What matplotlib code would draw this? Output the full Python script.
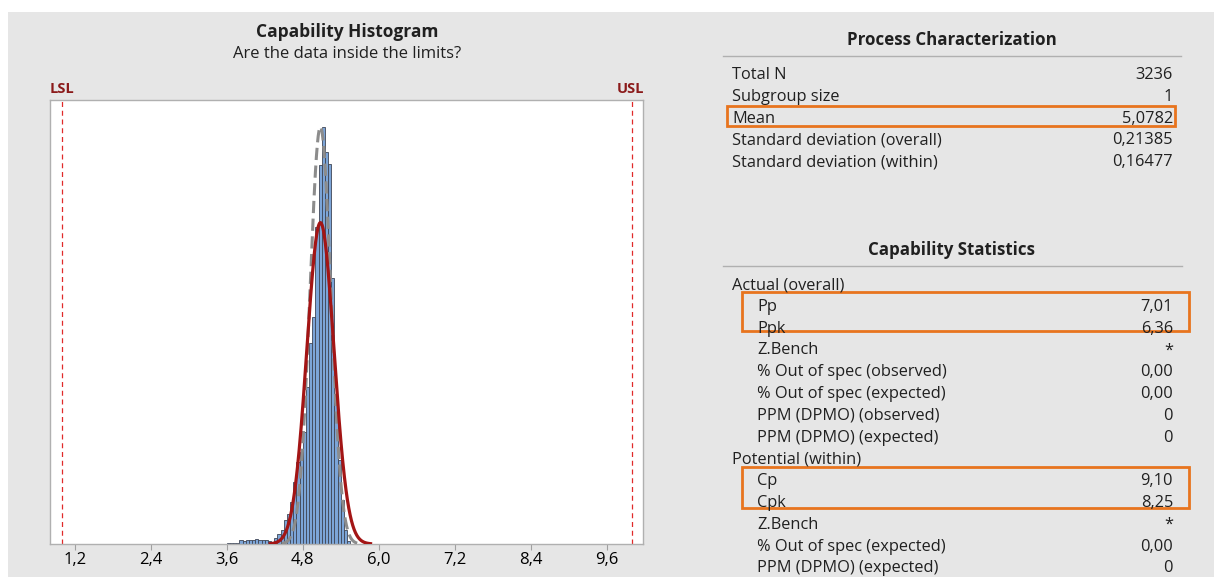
import matplotlib.pyplot as plt
import numpy as np
from matplotlib.patches import Rectangle

plt.rcParams.update({
    "font.family": ["Open Sans", "DejaVu Sans"],
    "font.size": 11,
})

# histogram data
bin_start = 3.60
bin_width = 0.05
counts = [1, 1, 1, 1, 4, 3, 4, 4, 4, 5, 4, 4, 4, 3, 2,
          6, 9, 13, 23, 28, 39, 58, 77, 86, 105, 147, 189, 213, 298,
          356, 392, 368, 357, 250, 132, 79, 41, 13, 3]

lsl, usl = 1.0, 10.0
total_n = 3236
mean = 5.0782
sd_overall = 0.21385
sd_within = 0.16477

xticks = [1.2, 2.4, 3.6, 4.8, 6.0, 7.2, 8.4, 9.6]
xtick_labels = ["1,2", "2,4", "3,6", "4,8", "6,0", "7,2", "8,4", "9,6"]

proc_labels = ["Total N", "Subgroup size", "Mean",
               "Standard deviation (overall)", "Standard deviation (within)"]
proc_values = ["3236", "1", "5,0782", "0,21385", "0,16477"]

cap_rows = [
    ("Actual (overall)", "", 0),
    ("Pp", "7,01", 1),
    ("Ppk", "6,36", 1),
    ("Z.Bench", "*", 1),
    ("% Out of spec (observed)", "0,00", 1),
    ("% Out of spec (expected)", "0,00", 1),
    ("PPM (DPMO) (observed)", "0", 1),
    ("PPM (DPMO) (expected)", "0", 1),
    ("Potential (within)", "", 0),
    ("Cp", "9,10", 1),
    ("Cpk", "8,25", 1),
    ("Z.Bench", "*", 1),
    ("% Out of spec (expected)", "0,00", 1),
    ("PPM (DPMO) (expected)", "0", 1),
]

W, H = 1214, 577
fig = plt.figure(figsize=(W / 100, H / 100), dpi=100)
fig.patch.set_facecolor("white")


def fx(x):
    return x / W


def fy(y):
    return 1 - y / H


# gray background panel
fig.patches.append(Rectangle((fx(8), 0), 1 - fx(8), fy(12), transform=fig.transFigure,
                             facecolor="#e6e6e6", edgecolor="none", zorder=-10))

# ---- histogram ----
ax = fig.add_axes([fx(50), fy(544), (643 - 50) / W, (544 - 100) / H])
ax.set_facecolor("white")

edges = bin_start + bin_width * np.arange(len(counts))
ax.bar(edges, counts, width=bin_width, align="edge", color="#7ca5d8",
       edgecolor="#3f4656", linewidth=0.6, zorder=2)

xs_o = np.linspace(mean - 3.7 * sd_overall, mean + 3.7 * sd_overall, 300)
ys_o = total_n * bin_width * np.exp(-0.5 * ((xs_o - mean) / sd_overall) ** 2) / (sd_overall * np.sqrt(2 * np.pi))
xs_w = np.linspace(mean - 3.7 * sd_within, mean + 3.7 * sd_within, 300)
ys_w = total_n * bin_width * np.exp(-0.5 * ((xs_w - mean) / sd_within) ** 2) / (sd_within * np.sqrt(2 * np.pi))
ax.plot(xs_w, ys_w, color="#8c8c8c", linewidth=2.2, dashes=(4, 1.8), zorder=3)
ax.plot(xs_o, ys_o, color="#a31515", linewidth=2.3, zorder=4)

for v in (lsl, usl):
    ax.axvline(v, color="#e02a2a", linewidth=0.9, dashes=(4, 3), zorder=1)

ax.set_xlim(0.81, 10.17)
ax.set_ylim(0, 417)
ax.set_yticks([])
ax.set_xticks(xticks)
ax.set_xticklabels(xtick_labels, fontsize=12)
ax.tick_params(axis="x", length=4, color="#a0a0a0", pad=2)
for s in ax.spines.values():
    s.set_color("#b0b0b0")
    s.set_linewidth(1.0)

fig.text(fx(347), fy(32), "Capability Histogram", ha="center", va="center",
         fontsize=12.5, fontweight="bold", color="#202020")
fig.text(fx(347), fy(54), "Are the data inside the limits?", ha="center", va="center",
         fontsize=12, color="#202020")
fig.text(fx(50), fy(89), "LSL", ha="left", va="center", fontsize=10.5,
         fontweight="bold", color="#8b1a1a")
fig.text(fx(644), fy(89), "USL", ha="right", va="center", fontsize=10.5,
         fontweight="bold", color="#8b1a1a")

# ---- process characterization ----
lab_x, val_x = 732, 1173
orange = "#e8741e"
row_fs = 11.8
fig.text(fx(952), fy(40), "Process Characterization", ha="center", va="center",
         fontsize=12.2, fontweight="bold", color="#202020")
fig.add_artist(plt.Line2D([fx(723), fx(1181)], [fy(56), fy(56)], color="#b0b0b0", linewidth=1))
for i, (lab, val) in enumerate(zip(proc_labels, proc_values)):
    y = 75 + i * 21.8
    fig.text(fx(lab_x), fy(y), lab, ha="left", va="center", fontsize=row_fs, color="#202020")
    fig.text(fx(val_x), fy(y), val, ha="right", va="center", fontsize=row_fs, color="#202020")
fig.patches.append(Rectangle((fx(727), fy(126)), (1175 - 727) / W, 20 / H,
                             transform=fig.transFigure, facecolor="none",
                             edgecolor=orange, linewidth=2))

# ---- capability statistics ----
fig.text(fx(952), fy(250), "Capability Statistics", ha="center", va="center",
         fontsize=12.2, fontweight="bold", color="#202020")
fig.add_artist(plt.Line2D([fx(723), fx(1182)], [fy(266), fy(266)], color="#b0b0b0", linewidth=1))
for i, (lab, val, indent) in enumerate(cap_rows):
    y = 285 + i * 21.8
    fig.text(fx(lab_x + 25 * indent), fy(y), lab, ha="left", va="center", fontsize=row_fs, color="#202020")
    if val:
        fig.text(fx(val_x), fy(y), val, ha="right", va="center", fontsize=row_fs, color="#202020")
for top, bot in [(292, 331), (467, 508)]:
    fig.patches.append(Rectangle((fx(742), fy(bot)), (1189 - 742) / W, (bot - top) / H,
                                 transform=fig.transFigure, facecolor="none",
                                 edgecolor=orange, linewidth=2))

fig.savefig("out.png", dpi=100)
